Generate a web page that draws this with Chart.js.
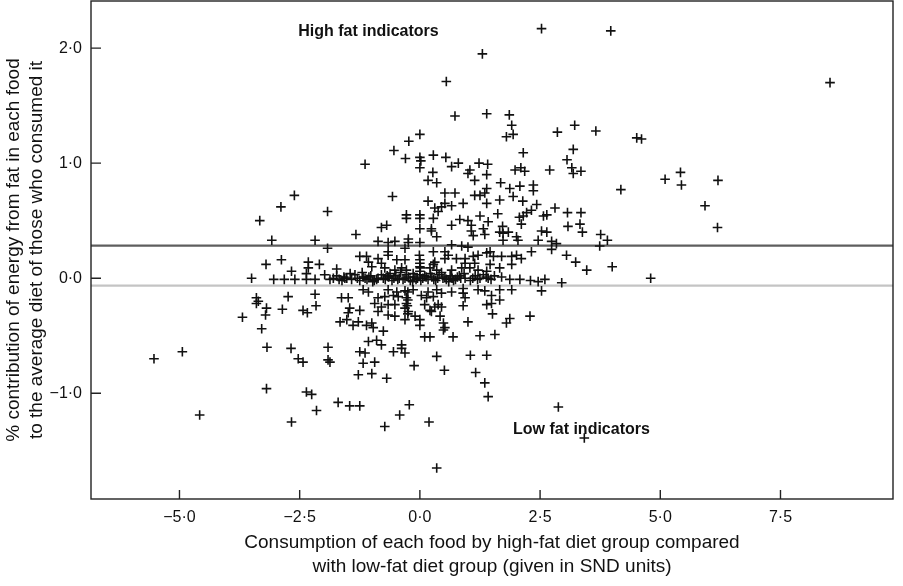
<!DOCTYPE html>
<html><head><meta charset="utf-8">
<script src="https://cdn.jsdelivr.net/npm/chart.js@4.4.1/dist/chart.umd.min.js"></script>
<style>html,body{margin:0;padding:0;background:#fff;}canvas{display:block;}</style>
</head><body>
<canvas id="c" width="903" height="586"></canvas>
<script>
// ---- axis definitions ----
const xTicks = [-5, -2.5, 0, 2.5, 5, 7.5];
const yTicks = [-1, 0, 1, 2];
const xRange = [-6.84, 9.84];
const yRange = [-1.92, 2.41];
const xTitle = ['Consumption of each food by high-fat diet group compared', 'with low-fat diet group (given in SND units)'];
const yTitle = ['% contribution of energy from fat in each food', 'to the average diet of those who consumed it'];
// reference lines (y values): dark, light
const refLines = [0.283, -0.064];
const refColors = ['#5e5e5e', '#c4c4c4'];
// annotations
const annotTexts = ['High fat indicators', 'Low fat indicators'];
const annotX = [-1.07, 3.36];
const annotY = [2.14, -1.32];

// ---- food points [SND difference, % energy contribution] ----
const topPoints = [[0.55,1.71],[0.00,1.25],[-0.23,1.19],[-0.54,1.11],[-1.14,0.99],[-0.30,1.04],[0.00,1.05],[0.02,1.02],[0.00,0.96],[0.28,1.07],
[0.54,1.05],[2.53,2.17],[3.97,2.15],[1.30,1.95],[8.53,1.70],[0.73,1.41],[1.39,1.43],[1.86,1.42],[1.91,1.33],[1.80,1.23],
[1.94,1.25],[2.86,1.27],[3.22,1.33],[3.66,1.28],[4.51,1.22],[4.61,1.21],[3.19,1.12],[2.15,1.09],[3.06,1.03],[3.16,0.96],
[3.19,0.91],[3.35,0.93],[2.70,0.94],[4.18,0.77],[5.10,0.86],[5.42,0.92],[5.44,0.81],[6.20,0.85],[5.93,0.63],[6.19,0.44]];
const upperMid = [[1.98,0.94],[2.10,0.96],[2.18,0.93],[0.80,1.00],[1.23,1.00],[1.41,0.99],[1.04,0.94],[1.00,0.91],[1.39,0.90],[1.14,0.85],[0.66,0.97]];
const centreHigh = [[0.27,0.92],[0.17,0.85],[0.35,0.83],[0.52,0.74],[-0.57,0.71],
[0.73,0.74],[0.90,0.65],[0.66,0.63],[0.52,0.65],[0.45,0.62],[0.31,0.61],[0.38,0.58],[0.17,0.67],
[1.14,0.72],[1.25,0.72],[1.35,0.74],[1.39,0.65],
[-0.28,0.55],[-0.28,0.52],[0.00,0.55],[0.00,0.52],[0.28,0.52],
[-0.80,0.44],[-0.69,0.46],
[0.00,0.43],[0.24,0.43],[0.24,0.41],[0.35,0.36],
[0.66,0.46],[0.83,0.51],[1.00,0.50],[1.07,0.46],[1.25,0.54],[1.32,0.43],[1.07,0.41],[1.11,0.37],
[-1.33,0.38],
[-0.87,0.32],[-0.66,0.31],[-0.52,0.32],[-0.24,0.34],[-0.24,0.31],[0.00,0.31],
[-0.66,0.23],[0.66,0.29],[0.87,0.28],[1.00,0.27],[-0.31,0.26],[0.28,0.23],[0.52,0.23]];
const rightHigh = [[1.68,0.83],[1.39,0.78],[1.87,0.78],[2.08,0.80],[2.36,0.81],[2.36,0.76],[1.94,0.71],
[2.14,0.67],[1.66,0.68],
[2.43,0.64],[2.32,0.59],[2.22,0.57],[2.57,0.54],[2.64,0.55],[2.81,0.61],[3.07,0.57],[3.35,0.57],[2.07,0.53],[2.11,0.47],[1.62,0.56],[1.42,0.49],
[1.72,0.45],[1.73,0.39],[1.84,0.40],[1.35,0.38],[2.01,0.36],[2.04,0.33],[2.46,0.33],[2.74,0.32],[2.53,0.41],[2.64,0.40],[3.08,0.45],[3.33,0.47],[3.38,0.40],[3.76,0.38],[3.90,0.33],[1.73,0.33],
[2.15,0.54],[1.66,0.40],[2.84,0.30],[3.74,0.28]];
const rightBand = [[1.39,0.22],[1.46,0.23],[0.76,0.17],[0.94,0.17],[1.11,0.19],[1.21,0.20],[1.53,0.19],[1.70,0.19],[1.91,0.19],[2.01,0.20],
[2.11,0.17],[2.32,0.23],[2.74,0.25],[3.05,0.20],[3.24,0.14],[3.47,0.07],[4.00,0.10],[4.80,0.00],[2.95,-0.04],[2.60,-0.01],
[0.94,0.13],[1.14,0.13],[1.46,0.12],[1.66,0.09],[1.91,0.12],[1.70,0.01],[1.42,0.00],[0.94,0.00],[1.25,0.00],[2.08,-0.01],
[1.87,-0.01],[2.46,-0.03],[1.55,0.02],[2.30,-0.02]];
const centreBand = [[-1.25,0.19],[-1.11,0.19],[-1.07,0.14],[-0.87,0.17],[-0.80,0.13],[-0.66,0.20],[-0.48,0.16],[-0.31,0.16],[0.00,0.13],[0.00,0.10],[0.31,0.14],[0.52,0.17],[0.59,0.20],
[-1.00,0.10],[-0.73,0.09],[-0.52,0.07],[-0.38,0.09],[-0.28,0.07],[0.00,0.06],[0.21,0.09],[0.35,0.07],[0.66,0.07],[0.87,0.09],[1.04,0.09],[1.21,0.07],[1.39,0.06],
[0.28,0.12],[-0.14,0.04],[0.00,0.03],[0.01,0.09],[0.00,0.16],[-0.01,0.20]];
const zeroRow = [[-1.87,-0.01],[-1.73,0.02],[-1.62,-0.02],[-1.52,0.00],[-1.42,-0.01],[-1.35,0.03],[-1.25,-0.02],[-1.18,0.01],[-1.10,-0.01],[-1.02,0.02],
[-0.95,-0.02],[-0.87,0.00],[-0.80,0.03],[-0.72,-0.01],[-0.65,0.01],[-0.58,-0.02],[-0.50,0.02],[-0.43,0.00],[-0.35,-0.01],[-0.28,0.03],
[-0.20,-0.02],[-0.12,0.01],[-0.05,0.00],[0.02,-0.02],[0.10,0.02],[0.17,-0.01],[0.25,0.01],[0.33,-0.02],[0.40,0.03],[0.48,0.00],
[0.55,-0.01],[0.63,0.02],[0.70,-0.02],[0.78,0.01],[0.85,0.00],[1.05,-0.02],[1.15,0.02],[1.32,0.03],
[-1.45,0.04],[-0.98,-0.03],[-0.62,0.04],[-0.15,-0.03],[0.22,0.04],[0.60,-0.03],[0.92,0.04],[-0.40,0.05],[0.45,0.05],[-1.20,0.05],
[-1.80,0.00],[-1.68,-0.01],[-1.58,0.01],[-1.30,0.00],[-1.14,0.00],[-1.06,0.01],[-0.90,-0.01],[-0.76,0.00],[-0.68,0.02],[-0.54,0.00],
[-0.46,-0.01],[-0.31,0.00],[-0.24,0.01],[-0.08,-0.01],[0.06,0.00],[0.13,0.01],[0.29,-0.01],[0.37,0.00],[0.52,0.01],[0.67,0.00],
[0.74,-0.01],[0.82,0.02],[1.10,0.00],[1.20,-0.01],[1.38,0.01],[1.48,-0.01]];
const leftPoints = [[-2.61,0.72],[-2.89,0.62],[-3.33,0.50],[-1.92,0.58],[-3.08,0.33],[-2.18,0.33],[-1.92,0.26],
[-3.50,0.00],[-3.20,0.12],[-2.88,0.16],[-2.67,0.06],[-2.32,0.14],[-2.32,0.09],[-2.09,0.12],[-3.04,-0.01],[-2.82,-0.01],[-2.60,-0.01],[-2.36,-0.01],[-2.18,-0.01],[-1.98,0.03],[-2.36,0.04],[-1.73,0.08],[-1.56,0.00],
[-3.40,-0.17],[-2.74,-0.16],[-2.18,-0.14],[-1.63,-0.17],[-1.49,-0.17],
[-3.69,-0.34],[-3.40,-0.22],[-3.36,-0.20],[-3.19,-0.26],[-3.21,-0.32],[-3.29,-0.44],[-3.18,-0.60],[-2.86,-0.27],[-2.16,-0.24],[-2.43,-0.28],[-2.34,-0.30],
[-2.68,-0.61],[-2.53,-0.70],[-2.43,-0.73],[-1.91,-0.60],[-1.91,-0.71],[-1.87,-0.73],[-3.19,-0.96],[-2.36,-0.99],[-2.25,-1.01],[-2.15,-1.15],[-2.67,-1.25],[-1.70,-1.08],[-1.46,-1.11],[-1.25,-1.11],[-0.73,-1.29],[-0.42,-1.19],[-0.22,-1.10],[0.19,-1.25],[0.35,-1.65],
[-5.53,-0.70],[-4.94,-0.64],[-4.58,-1.19],
[-1.46,-0.26],[-1.49,-0.30],[-1.66,-0.38],[-1.52,-0.36],[-1.39,-0.41]];
const centreLow = [[-1.18,-0.10],[-1.07,-0.12],[-0.66,-0.10],[-0.48,-0.12],[-0.31,-0.11],[-0.14,-0.10],[0.17,-0.12],[0.35,-0.10],[0.45,-0.13],[0.66,-0.12],
[-0.87,-0.17],[-0.73,-0.16],[-0.55,-0.15],[-0.45,-0.16],[-0.28,-0.17],[0.03,-0.15],[0.14,-0.17],[0.28,-0.16],
[-1.25,-0.28],[-0.94,-0.22],[-0.80,-0.25],[-0.66,-0.23],[-0.52,-0.23],[-0.28,-0.22],[-0.31,-0.26],[-0.24,-0.29],[0.10,-0.23],[0.21,-0.28],[0.31,-0.25],[0.38,-0.23],[0.45,-0.25],
[-0.87,-0.29],[-0.66,-0.32],[-0.52,-0.33],[-0.31,-0.36],[-0.10,-0.33],[0.00,-0.36],[0.00,-0.41],[0.24,-0.29],[0.42,-0.33],[0.49,-0.39],[0.49,-0.45],[0.52,-0.43],[0.21,-0.51],[0.10,-0.51],
[-1.28,-0.38],[-1.11,-0.41],[-1.00,-0.39],[-0.97,-0.43],[-0.76,-0.46],[-1.07,-0.55],[-0.90,-0.54],[-0.80,-0.58],[-0.55,-0.64],[-0.38,-0.58],[-0.38,-0.61],[-0.31,-0.65],[-1.25,-0.64],[-1.14,-0.65],[-1.18,-0.74],[-0.94,-0.73],[-1.28,-0.84],[-1.00,-0.83],[-0.69,-0.87],[-0.12,-0.76],[0.35,-0.68],[0.51,-0.80],
[-0.25,-0.12],[-0.25,-0.19],[-0.26,-0.24],[-0.25,-0.31]];
const rightLow = [[0.90,-0.09],[1.21,-0.10],[1.66,-0.10],[1.91,-0.10],[1.49,-0.15],[0.90,-0.13],[2.53,-0.11],[1.35,-0.11],[0.94,-0.17],
[0.90,-0.24],[1.39,-0.23],[1.49,-0.22],[1.66,-0.19],
[1.00,-0.38],[1.51,-0.31],[1.87,-0.35],[1.80,-0.39],[2.29,-0.33],[0.69,-0.51],[1.25,-0.50],[1.56,-0.49],[1.05,-0.67],[1.39,-0.67],[1.16,-0.82],[1.35,-0.91],[1.42,-1.03],[2.88,-1.12],[3.42,-1.39]];

const allPoints = [].concat(topPoints, upperMid, centreHigh, rightHigh, rightBand, centreBand, zeroRow, leftPoints, centreLow, rightLow);

const FONT = '"Liberation Sans", Arial, Helvetica, sans-serif';
const fmt = v => (v < 0 ? '\u2212' : '') + Math.abs(v).toFixed(1).replace('.', '\u00b7');
const zeroPad = s => { s.paddingTop = 0; s.paddingBottom = 0; s.paddingLeft = 0; s.paddingRight = 0; };

const framePlugin = {
  id: 'frameTicks',
  afterDatasetsDraw(chart) {
    const {ctx, chartArea: a, scales: {x, y}} = chart;
    ctx.save();
    ctx.strokeStyle = '#222';
    ctx.lineWidth = 1.4;
    ctx.strokeRect(a.left, a.top, a.right - a.left, a.bottom - a.top);
    ctx.beginPath();
    xTicks.forEach(v => { const px = x.getPixelForValue(v); ctx.moveTo(px, a.bottom); ctx.lineTo(px, a.bottom - 9); });
    yTicks.forEach(v => { const py = y.getPixelForValue(v); ctx.moveTo(a.left, py); ctx.lineTo(a.left + 10, py); });
    ctx.stroke();
    ctx.font = 'bold 16px ' + FONT;
    ctx.fillStyle = '#111';
    ctx.textAlign = 'center';
    ctx.textBaseline = 'middle';
    annotTexts.forEach((t, i) => ctx.fillText(t, x.getPixelForValue(annotX[i]), y.getPixelForValue(annotY[i])));
    ctx.restore();
  }
};

const datasets = [{
  type: 'scatter',
  data: allPoints.map(p => ({x: p[0], y: p[1]})),
  pointStyle: 'cross',
  pointRadius: 4.8,
  pointBorderWidth: 1.6,
  borderColor: '#111',
  backgroundColor: '#111',
  order: 1
}];
refLines.forEach((v, i) => datasets.push({
  type: 'line',
  data: [{x: xRange[0], y: v}, {x: xRange[1], y: v}],
  borderColor: refColors[i],
  borderWidth: 2.2,
  pointRadius: 0,
  fill: false,
  order: 2
}));

new Chart(document.getElementById('c'), {
  data: {datasets},
  options: {
    responsive: false,
    animation: false,
    events: [],
    layout: {autoPadding: false, padding: {left: 0, right: 10, top: 1, bottom: 0}},
    plugins: {legend: {display: false}, tooltip: {enabled: false}},
    scales: {
      x: {
        type: 'linear', min: xRange[0], max: xRange[1],
        afterBuildTicks: s => { s.ticks = xTicks.map(v => ({value: v})); },
        afterFit: s => { s.height = 87; zeroPad(s); },
        grid: {display: false, drawTicks: false},
        border: {display: false},
        ticks: {callback: fmt, font: {family: FONT, size: 16}, color: '#111', padding: 9, maxRotation: 0, autoSkip: false},
        title: {display: true, text: xTitle, font: {family: FONT, size: 19, lineHeight: 1.26}, color: '#111', padding: {top: 0, bottom: 7}}
      },
      y: {
        type: 'linear', min: yRange[0], max: yRange[1],
        afterBuildTicks: s => { s.ticks = yTicks.map(v => ({value: v})); },
        afterFit: s => { s.width = 91; zeroPad(s); },
        grid: {display: false, drawTicks: false},
        border: {display: false},
        ticks: {callback: fmt, font: {family: FONT, size: 16}, color: '#111', padding: 9, autoSkip: false},
        title: {display: true, text: yTitle, font: {family: FONT, size: 19, lineHeight: 1.22}, color: '#111', padding: {top: 2, bottom: 0}}
      }
    }
  },
  plugins: [framePlugin]
});
</script>
</body></html>
